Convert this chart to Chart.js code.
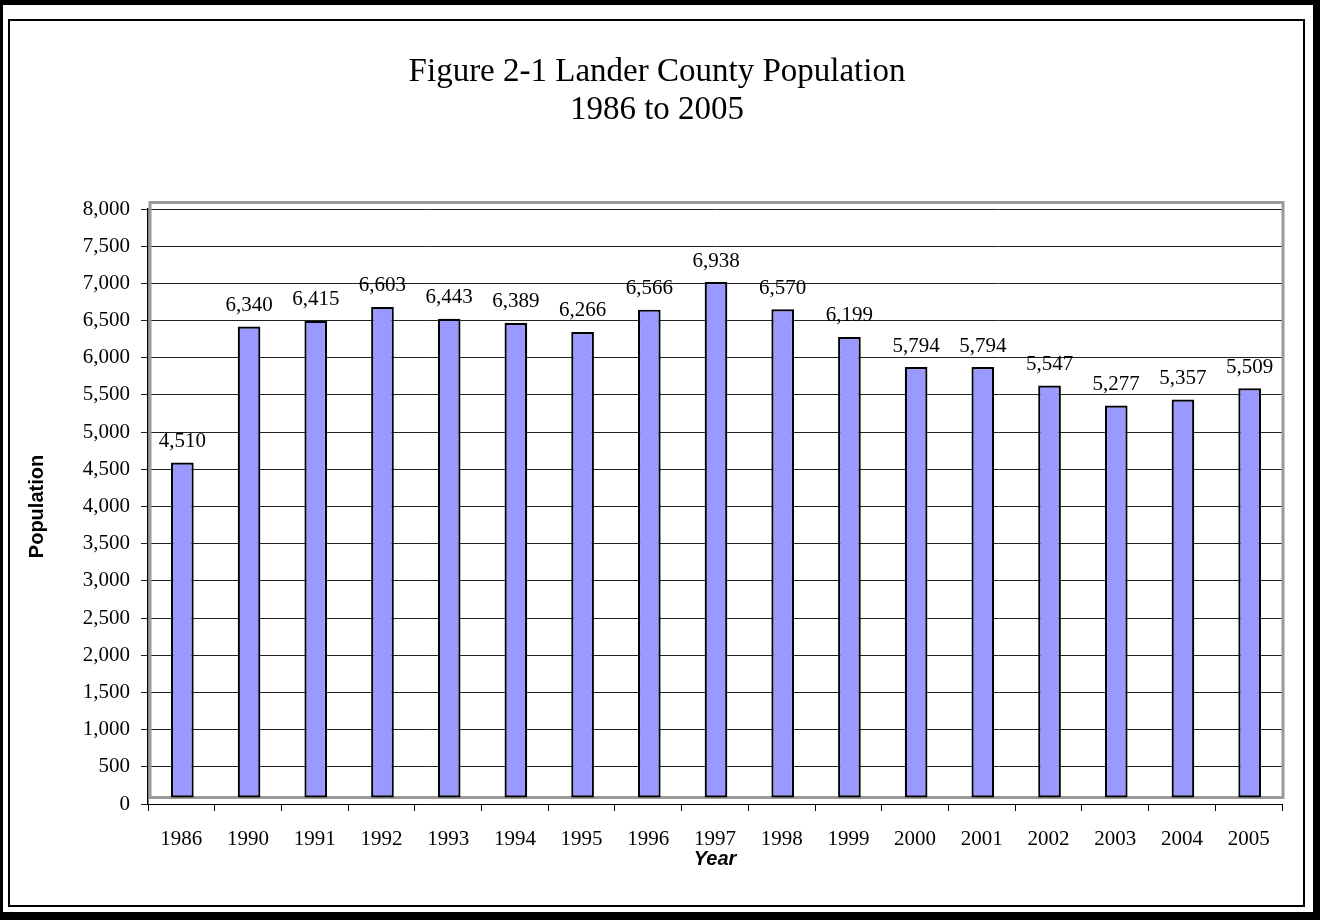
<!DOCTYPE html>
<html>
<head>
<meta charset="utf-8">
<script src="https://cdn.jsdelivr.net/npm/chart.js@4.4.0/dist/chart.umd.min.js"></script>
<style>
html,body{margin:0;padding:0;background:#fff;}
#wrap{position:relative;width:1320px;height:920px;overflow:hidden;background:#fff;}
#outer{position:absolute;left:0;top:0;width:1320px;height:920px;box-sizing:border-box;border-style:solid;border-color:#000;border-width:5px 7px 8px 3px;}
#inner{position:absolute;left:8px;top:19px;width:1297px;height:888px;box-sizing:border-box;border:2px solid #000;}
canvas{position:absolute;left:0;top:0;}
</style>
</head>
<body>
<div id="wrap">
  <div id="outer"></div>
  <div id="inner"></div>
  <canvas id="c" width="1320" height="920"></canvas>
</div>
<script>
// ---- data ----
const years = ['1986','1990','1991','1992','1993','1994','1995','1996','1997','1998','1999','2000','2001','2002','2003','2004','2005'];
const population = [4510, 6340, 6415, 6603, 6443, 6389, 6266, 6566, 6938, 6570, 6199, 5794, 5794, 5547, 5277, 5357, 5509];
const titleLines = ['Figure 2-1 Lander County Population', '1986 to 2005'];
const yAxisTitle = 'Population';
const xAxisTitle = 'Year';
const yMin = 0, yMax = 8000, yStep = 500;

const fmt = v => Number(v).toLocaleString('en-US');
const SERIF = '"Liberation Serif", "Times New Roman", serif';
const SANS = '"Liberation Sans", Arial, sans-serif';
const DEPTH_X = 1, DEPTH_Y = 6;

const depthPlugin = {
  id: 'depth',
  beforeDatasetsDraw(chart) {
    const {ctx, chartArea: a} = chart;
    ctx.save();
    ctx.strokeStyle = '#9a9a9a';
    ctx.lineWidth = 3;
    ctx.strokeRect(a.left + 2, a.top - DEPTH_Y - 0.5, a.right - a.left - 1, a.bottom - a.top);
    ctx.restore();
    ctx.save();
    ctx.translate(DEPTH_X, -DEPTH_Y);
  },
  afterDatasetsDraw(chart) {
    const {ctx} = chart;
    ctx.restore();
    ctx.save();
    ctx.font = '21px ' + SERIF;
    ctx.fillStyle = '#000';
    ctx.textAlign = 'center';
    ctx.textBaseline = 'middle';
    const meta = chart.getDatasetMeta(0);
    meta.data.forEach((el, i) => {
      ctx.fillText(fmt(chart.data.datasets[0].data[i]), el.x + DEPTH_X, el.y - DEPTH_Y - 21);
    });
    ctx.restore();
  }
};

new Chart(document.getElementById('c'), {
  type: 'bar',
  data: {
    labels: years,
    datasets: [{
      data: population,
      backgroundColor: '#9999FF',
      borderColor: '#000',
      borderWidth: 2.2,
      borderSkipped: false,
      categoryPercentage: 1,
      barPercentage: 0.34
    }]
  },
  options: {
    responsive: false,
    animation: false,
    layout: { padding: { left: 32, right: 38, top: 20, bottom: 14 } },
    plugins: {
      legend: { display: false },
      tooltip: { enabled: false },
      title: {
        display: true,
        text: titleLines,
        color: '#000',
        font: { family: SERIF, size: 33, weight: 'normal', lineHeight: 38 / 33 },
        padding: { top: 33, bottom: 80 }
      }
    },
    scales: {
      x: {
        grid: { display: true, drawOnChartArea: false, drawTicks: true, tickLength: 7, color: '#000', offset: true },
        border: { display: true, color: '#000', width: 1 },
        ticks: { color: '#000', font: { family: SERIF, size: 21 }, padding: 16, maxRotation: 0, autoSkip: false },
        title: { display: true, text: xAxisTitle, color: '#000', font: { family: SANS, size: 20, weight: 'bold', style: 'italic' }, padding: { top: 0, bottom: 35 } },
        afterFit(s) { s.height = 102; }
      },
      y: {
        min: yMin, max: yMax,
        grid: { color: '#222', tickLength: 7, drawTicks: true },
        border: { display: true, color: '#000', width: 1.5 },
        ticks: { stepSize: yStep, color: '#000', font: { family: SERIF, size: 21 }, padding: 11, callback: v => fmt(v) },
        title: { display: true, text: yAxisTitle, color: '#000', font: { family: SANS, size: 20, weight: 'bold' }, padding: { top: -7, bottom: 0 } },
        afterFit(s) { s.width = 116; }
      }
    }
  },
  plugins: [depthPlugin]
});
</script>
</body>
</html>
